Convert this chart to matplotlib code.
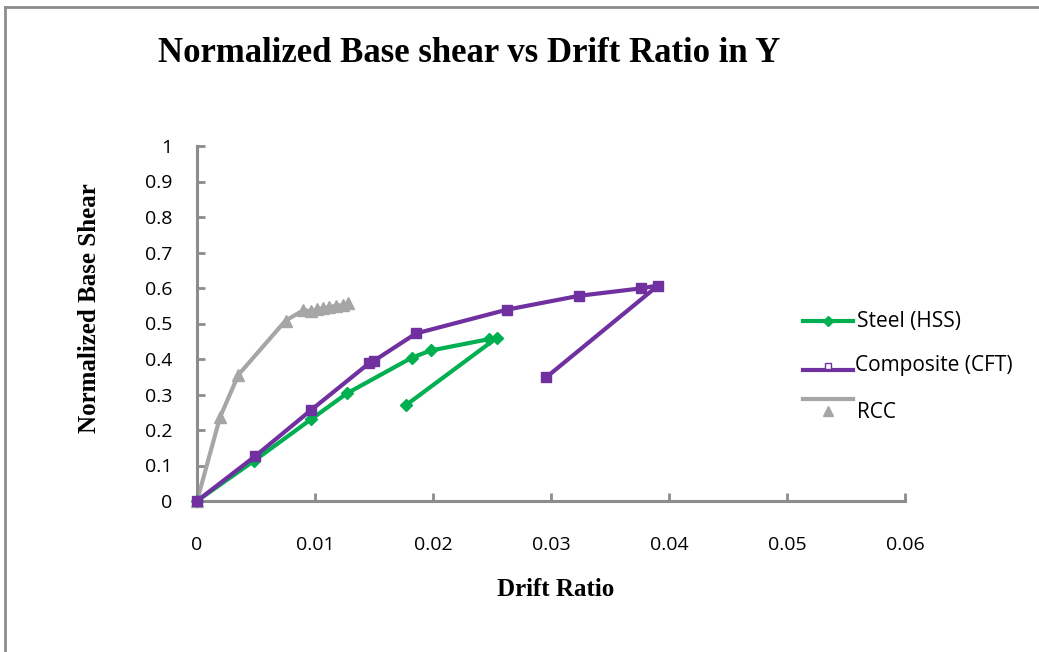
import matplotlib
matplotlib.use('Agg')
import matplotlib.pyplot as plt
from matplotlib.lines import Line2D

# data
steel_x = [0, 0.00483, 0.00966, 0.0127, 0.01822, 0.01983, 0.02475, 0.02542, 0.01771]
steel_y = [0, 0.113, 0.230, 0.303, 0.404, 0.424, 0.456, 0.460, 0.270]

cft_x = [0, 0.00492, 0.00966, 0.01458, 0.0150, 0.01856, 0.02627, 0.03237, 0.03763, 0.03907, 0.02958]
cft_y = [0, 0.126, 0.256, 0.388, 0.395, 0.472, 0.539, 0.578, 0.599, 0.607, 0.348]

rcc_x = [0, 0.00195, 0.0035, 0.0075, 0.0090, 0.0097, 0.0102, 0.0107, 0.0112, 0.0118, 0.0124, 0.0128]
rcc_y = [0, 0.236, 0.355, 0.508, 0.537, 0.535, 0.540, 0.543, 0.546, 0.550, 0.552, 0.557]

green = '#00B050'
purple = '#7030A0'
grey = '#A6A6A6'
axis_grey = '#8C8C8C'

tick_font = 'Open Sans'
fs = 14
serif = 'Liberation Serif'

fig = plt.figure(figsize=(10.39, 6.52), dpi=100)
ax = fig.add_axes([197 / 1039, 1 - 501 / 652, (905 - 197) / 1039, (501 - 146) / 652])

ax.plot(rcc_x, rcc_y, color=grey, lw=3, marker='^', ms=8, zorder=2)
ax.plot(steel_x, steel_y, color=green, lw=3, marker='D', ms=6.5, zorder=3)
ax.plot(cft_x, cft_y, color=purple, lw=3, marker='s', ms=7, zorder=4)

ax.set_xlim(0, 0.06)
ax.set_ylim(0, 1)
ax.set_xticks([0, 0.01, 0.02, 0.03, 0.04, 0.05, 0.06])
ax.set_xticklabels(['0', '0.01', '0.02', '0.03', '0.04', '0.05', '0.06'])
ax.set_yticks([i / 10 for i in range(11)])
ax.set_yticklabels(['0', '0.1', '0.2', '0.3', '0.4', '0.5', '0.6', '0.7', '0.8', '0.9', '1'])

for s in ['top', 'right']:
    ax.spines[s].set_visible(False)
for s in ['left', 'bottom']:
    ax.spines[s].set_color(axis_grey)
    ax.spines[s].set_linewidth(2.2)
ax.tick_params(axis='both', direction='in', length=6, width=2, color=axis_grey,
               labelsize=fs)
ax.tick_params(axis='x', pad=25)
ax.tick_params(axis='y', pad=17.5)
for lab in ax.get_xticklabels() + ax.get_yticklabels():
    lab.set_fontfamily(tick_font)
for ln in ax.lines:
    ln.set_clip_on(False)

fig.text(469 / 1039, 1 - 53 / 652, 'Normalized Base shear vs Drift Ratio in Y',
         family=serif, weight='bold', fontsize=25, ha='center', va='center')
fig.text(90 / 1039, 1 - 308 / 652, 'Normalized Base Shear', family=serif, weight='bold',
         fontsize=18, rotation=90, ha='center', va='center')
fig.text(556 / 1039, 1 - 590 / 652, 'Drift Ratio', family=serif, weight='bold',
         fontsize=18, ha='center', va='center')

# legend drawn by hand to mimic the spreadsheet layout
def fx(px):
    return px / 1039

def fy(py):
    return 1 - py / 652

leg_fs = 15
fig.add_artist(Line2D([fx(803), fx(853)], [fy(321), fy(321)], color=green, lw=3))
fig.add_artist(Line2D([fx(828)], [fy(321)], color=green, marker='D', ms=5.5, lw=0))
fig.text(fx(857), fy(322), 'Steel (HSS)', family=tick_font, fontsize=leg_fs, va='center')

fig.add_artist(Line2D([fx(803), fx(853)], [fy(370), fy(370)], color=purple, lw=3))
fig.add_artist(Line2D([fx(828)], [fy(366)], marker='s', ms=5, mfc='white', mec=purple,
                      mew=1, lw=0))
fig.text(fx(855), fy(366), 'Composite (CFT)', family=tick_font, fontsize=leg_fs, va='center')

fig.add_artist(Line2D([fx(803), fx(853)], [fy(399), fy(399)], color=grey, lw=3))
fig.add_artist(Line2D([fx(828)], [fy(411)], color=grey, marker='^', ms=7, lw=0))
fig.text(fx(857), fy(413), 'RCC', family=tick_font, fontsize=leg_fs, va='center')

# outer frame (only top and left edges are visible in the crop)
fig.add_artist(Line2D([fx(5), fx(1045)], [fy(7), fy(7)], color=axis_grey, lw=2))
fig.add_artist(Line2D([fx(5), fx(5)], [fy(7), fy(660)], color=axis_grey, lw=2))

fig.savefig('out.png', dpi=100, facecolor='white')
